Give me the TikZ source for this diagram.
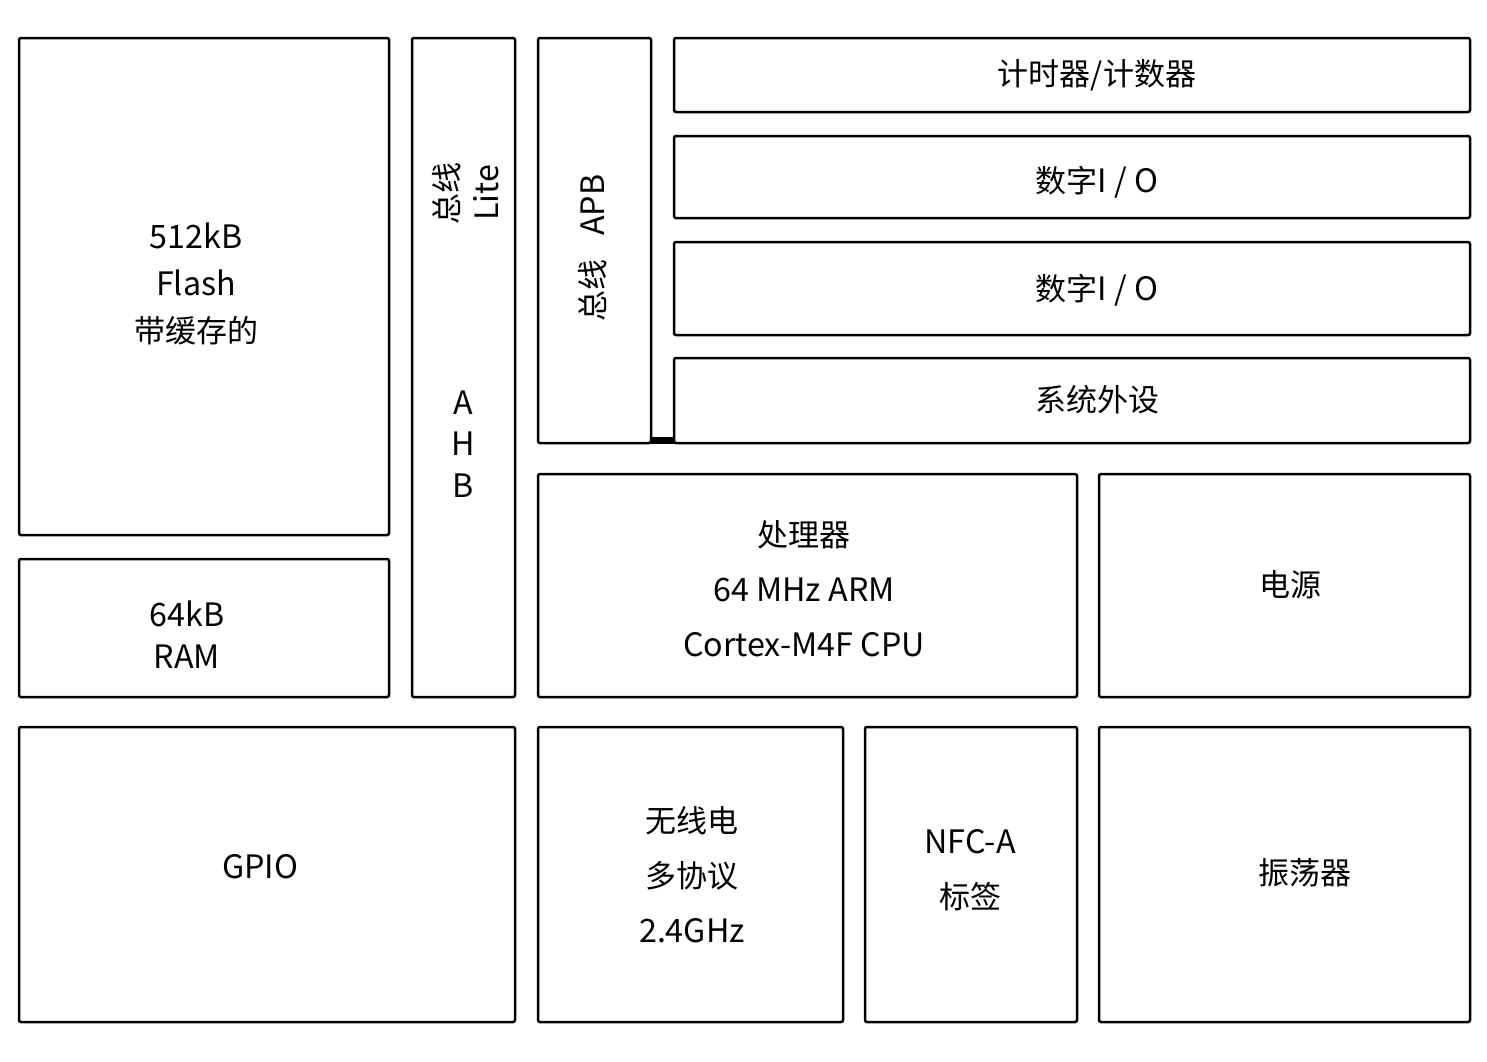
\documentclass[tikz,border=0pt]{standalone}
\usepackage{fontspec}
\setmainfont{Noto Sans CJK SC}
\newfontfamily\lat{Noto Sans CJK SC}[Scale=1.04]
\begin{document}
\begin{tikzpicture}[x=0.5pt,y=-0.5pt,
  blk/.style={draw=black,line width=1.25pt,rounded corners=1pt,fill=white},
  lbl/.style={font=\fontsize{15.5}{24}\selectfont,align=center,inner sep=0pt}]
\useasboundingbox[fill=white] (0,0) rectangle (1487,1061);
\draw[blk] (19,38) rectangle (389,535) node[coordinate] (flash) {};
\draw[blk] (19,559) rectangle (389,697) node[coordinate] (ram) {};
\draw[blk] (412,38) rectangle (515,697) node[coordinate] (ahb) {};
\draw[blk] (538,38) rectangle (651,443) node[coordinate] (apb) {};
\draw[blk] (674,38) rectangle (1470,112) node[coordinate] (timer) {};
\draw[blk] (674,136) rectangle (1470,218) node[coordinate] (dio1) {};
\draw[blk] (674,242) rectangle (1470,335) node[coordinate] (dio2) {};
\draw[blk] (674,358) rectangle (1470,443) node[coordinate] (sysp) {};
\draw[blk] (538,474) rectangle (1077,697) node[coordinate] (cpu) {};
\draw[blk] (1099,474) rectangle (1470,697) node[coordinate] (pwr) {};
\draw[blk] (19,727) rectangle (515,1022) node[coordinate] (gpio) {};
\draw[blk] (538,727) rectangle (843,1022) node[coordinate] (radio) {};
\draw[blk] (865,727) rectangle (1077,1022) node[coordinate] (nfc) {};
\draw[blk] (1099,727) rectangle (1470,1022) node[coordinate] (osc) {};
% link bar between APB and system peripherals
\fill[black] (651,437) rectangle (674,443.5) node[coordinate] (link) {};
% labels
\node[lbl,font=\fontsize{15.5}{23.5}\selectfont] (tflash) at (196,284) {{\lat 512kB}\\{\lat Flash}\\带缓存的};
\node[lbl,font=\fontsize{15.5}{21}\selectfont] (tram) at (187,635) {{\lat 64kB}\\{\lat RAM}};
\node[lbl,rotate=90,font=\fontsize{15.5}{20}\selectfont] (tlite) at (466,193) {总线\\{\lat Lite}};
\node[lbl,font=\fontsize{15.5}{20.8}\selectfont] (tahb) at (463,444) {{\lat A}\\{\lat H}\\{\lat B}};
\node[lbl,rotate=90] (tapb) at (593,248) {总线\hspace{12pt}{\lat APB}};
\node[lbl] (ttimer) at (1097,75) {计时器/计数器};
\node[lbl] (tdio1) at (1097,182) {数字{\lat I / O}};
\node[lbl] (tdio2) at (1097,290) {数字{\lat I / O}};
\node[lbl] (tsysp) at (1097,400) {系统外设};
\node[lbl,font=\fontsize{15.5}{27.5}\selectfont] (tcpu) at (804,589) {处理器\\{\lat 64 MHz ARM}\\{\lat Cortex-M4F CPU}};
\node[lbl] (tpwr) at (1290,585) {电源};
\node[lbl] (tgpio) at (260,867) {{\lat GPIO}};
\node[lbl,font=\fontsize{15.5}{27.5}\selectfont] (tradio) at (692,875) {无线电\\多协议\\{\lat 2.4GHz}};
\node[lbl,font=\fontsize{15.5}{27.5}\selectfont] (tnfc) at (970,870) {{\lat NFC-A}\\标签};
\node[lbl] (tosc) at (1305,873) {振荡器};
\end{tikzpicture}
\end{document}
